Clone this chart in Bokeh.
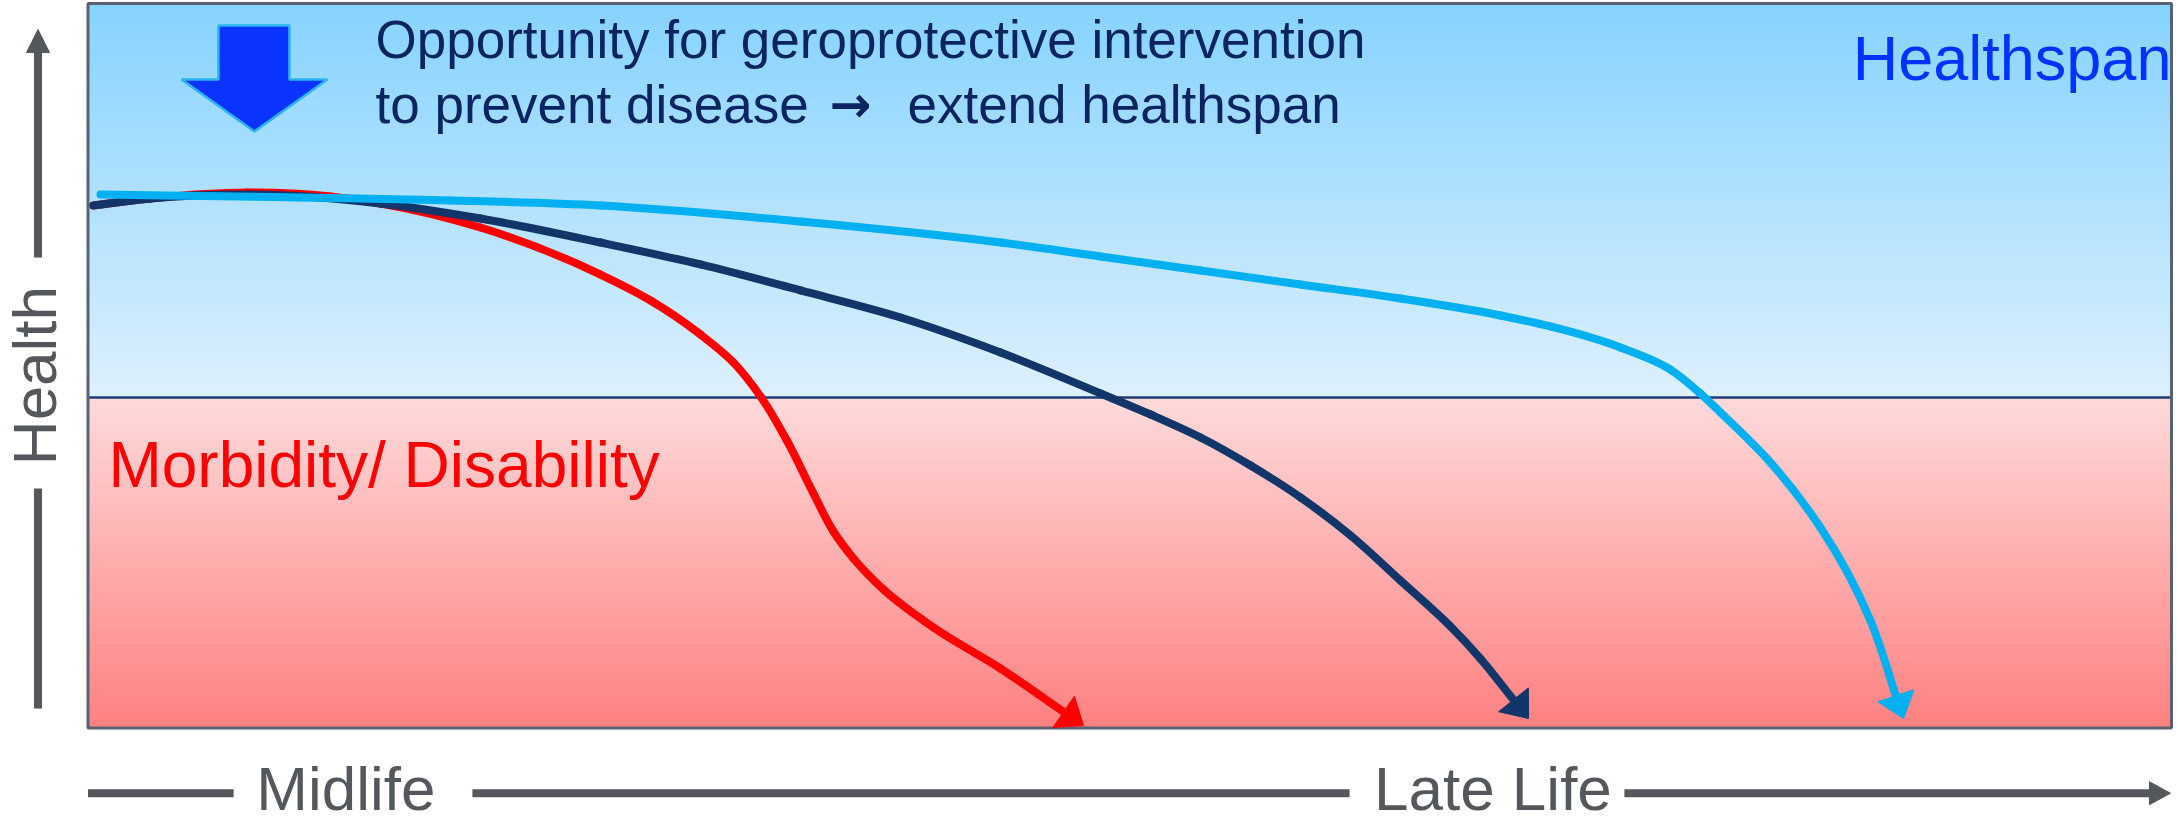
import numpy as np
from bokeh.plotting import figure
from bokeh.models import Range1d
from bokeh.core.properties import value
from bokeh.embed import file_html
from bokeh.resources import INLINE

# ---------------- data (life course 0-100 across panel, health 0-100) ----------------
red_x = [0.26, 3.00, 7.66, 11.64, 14.04, 18.84, 24.60, 27.00, 29.40, 30.98, 32.28,
         33.57, 34.82, 35.78, 36.74, 38.18, 40.58, 43.80, 46.87, 47.78]
red_y = [72.12, 73.09, 73.91, 73.36, 72.40, 69.08, 62.59, 59.01, 54.31, 50.45, 45.76,
         39.54, 32.37, 27.12, 23.40, 19.12, 13.87, 8.21, 2.14, 0.35]

navy_x = [0.26, 3.00, 7.66, 14.04, 18.84, 24.60, 29.40, 34.20, 39.00, 43.80, 48.60,
          51.00, 53.40, 55.80, 58.20, 60.60, 62.99, 65.40, 66.83, 68.37, 69.14]
navy_y = [72.12, 73.09, 73.64, 72.40, 70.32, 67.01, 63.98, 60.39, 56.66, 51.83, 46.17,
          43.27, 40.10, 36.23, 31.82, 26.57, 20.36, 14.01, 9.59, 4.07, 1.31]

blue_x = [0.60, 10.20, 17.40, 24.60, 34.20, 43.80, 48.60, 53.40, 58.20, 62.99, 67.79,
          70.19, 73.55, 75.95, 77.39, 78.35, 80.75, 83.15, 85.55, 86.80, 87.14]
blue_y = [73.64, 73.22, 72.81, 72.12, 69.91, 67.01, 65.08, 63.15, 61.21, 59.28, 56.94,
          55.42, 52.52, 49.48, 46.17, 43.55, 36.65, 27.67, 14.84, 4.21, 1.31]

threshold = 45.62          # boundary healthspan / morbidity

callout_x = [6.26, 9.67, 9.67, 11.49, 7.99, 4.49, 6.26]
callout_y = [96.96, 96.96, 89.51, 89.51, 82.33, 89.51, 89.51]

top_line1 = "Opportunity for geroprotective intervention"
line2_parts = ["to prevent disease", "\u2192", "extend healthspan"]
zone_labels = ["Healthspan", "Morbidity/ Disability"]
y_label = "Health"
x_labels = ["Midlife", "Late Life"]

# ---------------- figure ----------------
W, H = 2177, 822
xr = Range1d(-4.1997, 100.288)
yr = Range1d(-13.043, 100.414)
sx = W / (xr.end - xr.start)
sy = H / (yr.end - yr.start)

p = figure(width=W, height=H, x_range=xr, y_range=yr, output_backend="svg",
           toolbar_location=None, min_border=0, x_axis_type=None, y_axis_type=None,
           outline_line_color=None, background_fill_color="white",
           border_fill_color="white")

FONT = value("Liberation Sans")

# gradients
def strips(y0, y1, c_bottom, c_top, n=90):
    e = np.linspace(y0, y1, n + 1)
    mids = (e[:-1] + e[1:]) / 2
    t = (mids - y0) / (y1 - y0)
    cb, ct = np.array(c_bottom, float), np.array(c_top, float)
    cols = ["#%02x%02x%02x" % tuple(int(round(v)) for v in cb + (ct - cb) * ti) for ti in t]
    p.quad(left=0, right=100, bottom=e[:-1], top=e[1:], fill_color=cols,
           line_color=cols, line_width=1)

strips(threshold, 100, (221, 240, 253), (134, 211, 254))
strips(0, threshold, (255, 128, 128), (254, 218, 219))

p.line([0, 100], [threshold, threshold], line_color="#1d3c78", line_width=2.5)
p.quad(left=0, right=100, bottom=0, top=100, fill_color=None,
       line_color="#5a6272", line_width=3)

# smooth curves through the read points (chord-weighted cubic Bezier segments)
def smooth_line(xs, ys, color, width=8):
    P = np.column_stack([np.array(xs) * sx, np.array(ys) * sy]).astype(float)  # screen px
    n = len(P)
    T = np.zeros_like(P)
    for i in range(n):
        if i == 0:
            T[i] = P[1] - P[0]
        elif i == n - 1:
            T[i] = P[-1] - P[-2]
        else:
            da = np.hypot(*(P[i] - P[i - 1])); db = np.hypot(*(P[i + 1] - P[i]))
            T[i] = (da * (P[i + 1] - P[i]) / db + db * (P[i] - P[i - 1]) / da) / (da + db)
            T[i] /= np.hypot(*T[i])
    for i in (0, n - 1):
        T[i] /= np.hypot(*T[i])
    x0, y0, x1, y1, cx0, cy0, cx1, cy1 = ([] for _ in range(8))
    for i in range(n - 1):
        d = np.hypot(*(P[i + 1] - P[i]))
        c1 = P[i] + T[i] * d / 3.0
        c2 = P[i + 1] - T[i + 1] * d / 3.0
        x0.append(P[i][0] / sx); y0.append(P[i][1] / sy)
        x1.append(P[i + 1][0] / sx); y1.append(P[i + 1][1] / sy)
        cx0.append(c1[0] / sx); cy0.append(c1[1] / sy)
        cx1.append(c2[0] / sx); cy1.append(c2[1] / sy)
    p.bezier(x0=x0, y0=y0, x1=x1, y1=y1, cx0=cx0, cy0=cy0, cx1=cx1, cy1=cy1,
             line_color=color, line_width=width, line_cap="round")

def head(xs, ys, color, L=24, Wd=38):
    tx, ty = xs[-1] * sx, ys[-1] * sy
    bx, by = xs[-2] * sx, ys[-2] * sy
    d = np.array([tx - bx, ty - by]); d /= np.hypot(*d)
    n = np.array([-d[1], d[0]])
    m = np.array([tx, ty]) - L * d
    c1 = m + n * Wd / 2; c2 = m - n * Wd / 2
    p.patch([tx / sx, c1[0] / sx, c2[0] / sx], [ty / sy, c1[1] / sy, c2[1] / sy],
            fill_color=color, line_color=color, line_width=1)

for xs, ys, col in [(red_x, red_y, "#ff0000"), (navy_x, navy_y, "#12356a"),
                    (blue_x, blue_y, "#00b0f0")]:
    smooth_line(xs[:-1], ys[:-1], col)
    head(xs, ys, col)

# callout arrow
p.patch(callout_x, callout_y, fill_color="#0a33ff", line_color="#2ab4f2", line_width=2.5)

# texts (text_baseline middle = centre of capitals)
NAVY_T = "#0c2461"
p.text(x=[13.80], y=[94.98], text=[top_line1], text_font=FONT, text_font_size="53px",
       text_color=NAVY_T, text_baseline="middle", text_align="left")
p.text(x=[13.80, 39.33], y=[86.0, 86.0], text=[line2_parts[0], line2_parts[2]],
       text_font=FONT, text_font_size="53px", text_color=NAVY_T,
       text_baseline="middle", text_align="left")
p.text(x=[36.60], y=[86.0], text=[line2_parts[1]], text_font=value("DejaVu Sans"),
       text_font_size="50px", text_font_style="bold", text_color=NAVY_T,
       text_baseline="middle", text_align="center")

p.text(x=[84.70], y=[92.48], text=[zone_labels[0]], text_font=FONT,
       text_font_size="63px", text_color="#0033ff", text_baseline="middle")
p.text(x=[0.98], y=[36.36], text=[zone_labels[1]], text_font=FONT,
       text_font_size="64px", text_color="#ff0000", text_baseline="middle")

GREY = "#54585d"
# vertical axis arrow
ax_x = -2.40
p.segment(x0=[ax_x, ax_x], y0=[2.69, 64.94], x1=[ax_x, ax_x], y1=[33.06, 93.4],
          line_color=GREY, line_width=8)
hw = 11.5 / sx
p.patch([ax_x - hw, ax_x + hw, ax_x], [93.24, 93.24, 96.41], fill_color=GREY, line_color=GREY)
p.text(x=[-2.544], y=[48.65], text=[y_label], angle=np.pi / 2, text_font=FONT,
       text_font_size="62px", text_color=GREY, text_align="center", text_baseline="middle")

# horizontal axis arrow
ax_y = -9.0
p.segment(x0=[0, 18.45, 73.74], y0=[ax_y] * 3, x1=[6.99, 60.55, 99.0], y1=[ax_y] * 3,
          line_color=GREY, line_width=8)
hh = 11.5 / sy
p.patch([98.94, 98.94, 99.95], [ax_y - hh, ax_y + hh, ax_y], fill_color=GREY, line_color=GREY)
p.text(x=[12.38, 67.43], y=[-8.30, -8.30], text=x_labels, text_font=FONT,
       text_font_size="62px", text_color=GREY, text_align="center",
       text_baseline="middle")

open("out.html", "w").write(file_html(p, INLINE))
